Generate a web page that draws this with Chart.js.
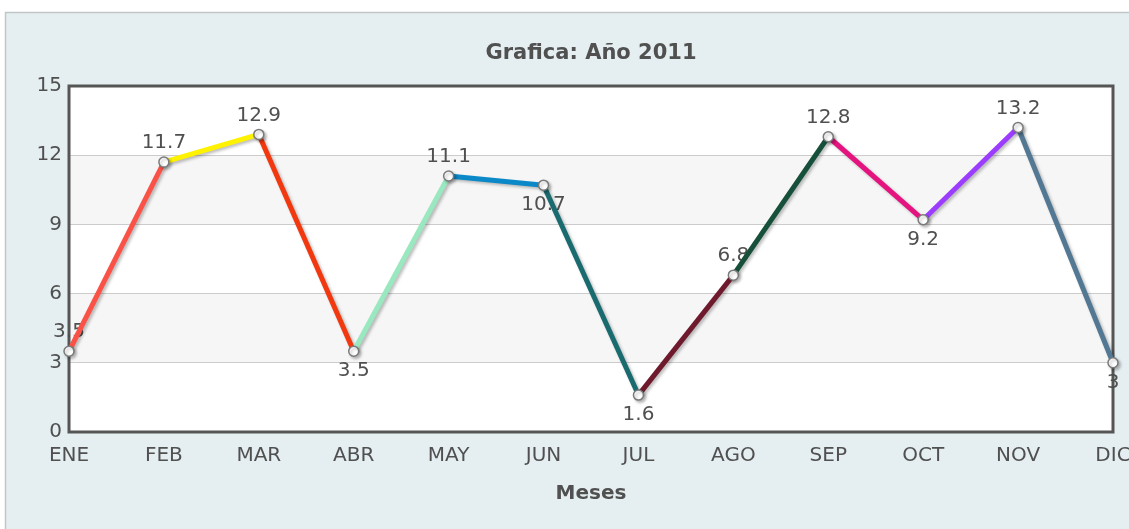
<!DOCTYPE html>
<html>
<head>
<meta charset="utf-8">
<style>
  html, body { margin: 0; padding: 0; background: #ffffff; }
  #wrap { width: 1129px; height: 529px; }
</style>
<script src="https://cdn.jsdelivr.net/npm/chart.js@4.4.0/dist/chart.umd.min.js"></script>
</head>
<body>
<div id="wrap"><canvas id="c" width="1129" height="529"></canvas></div>
<script>
const months = ['ENE','FEB','MAR','ABR','MAY','JUN','JUL','AGO','SEP','OCT','NOV','DIC'];
const values = [3.5, 11.7, 12.9, 3.5, 11.1, 10.7, 1.6, 6.8, 12.8, 9.2, 13.2, 3];
const segmentColors = ['#fa5246','#fff200','#f2380f','#99e8c0','#0a88c8','#1a6b70','#6e1a2c','#17503a','#e5137f','#9b3cff','#527894'];
const yTicks = [0, 3, 6, 9, 12, 15];
const chartTitle = 'Grafica: Año 2011';
const xTitle = 'Meses';

const FONT = '"DejaVu Sans", Verdana, sans-serif';
const TEXT = '#505050';

const bgPlugin = {
  id: 'bgPlugin',
  beforeDraw(chart) {
    const {ctx, chartArea: a, scales: {y}} = chart;
    ctx.save();
    ctx.fillStyle = '#ffffff';
    ctx.fillRect(0, 0, chart.width, chart.height);
    ctx.fillStyle = '#e5eef1';
    ctx.fillRect(5, 12, chart.width - 5, chart.height - 12);
    ctx.strokeStyle = '#c2c6c8';
    ctx.lineWidth = 1.5;
    ctx.beginPath();
    ctx.moveTo(5.5, chart.height);
    ctx.lineTo(5.5, 12.5);
    ctx.lineTo(chart.width, 12.5);
    ctx.stroke();
    ctx.fillStyle = '#ffffff';
    ctx.fillRect(a.left, a.top, a.right - a.left, a.bottom - a.top);
    for (let i = 0; i < yTicks.length - 1; i++) {
      if (i % 2 === 1) {
        const y0 = y.getPixelForValue(yTicks[i]);
        const y1 = y.getPixelForValue(yTicks[i + 1]);
        ctx.fillStyle = '#f6f6f6';
        ctx.fillRect(a.left, y1, a.right - a.left, y0 - y1);
      }
    }
    ctx.restore();
  },
  beforeDatasetsDraw(chart) {
    const {ctx, chartArea: a} = chart;
    ctx.save();
    ctx.strokeStyle = '#555555';
    ctx.lineWidth = 3;
    ctx.strokeRect(a.left, a.top, a.right - a.left, a.bottom - a.top);
    // data labels (drawn under the lines, as in the reference)
    const meta = chart.getDatasetMeta(0);
    ctx.font = '20px ' + FONT;
    ctx.fillStyle = TEXT;
    ctx.textAlign = 'center';
    ctx.textBaseline = 'middle';
    const data = chart.data.datasets[0].data;
    meta.data.forEach((pt, i) => {
      const below = i > 0 && data[i] < data[i - 1];
      ctx.fillText(String(data[i]), pt.x, below ? pt.y + 20 : pt.y - 19);
    });
    ctx.restore();
  },
  beforeDatasetDraw(chart) {
    const ctx = chart.ctx;
    ctx.save();
    ctx.shadowColor = 'rgba(0,0,0,0.25)';
    ctx.shadowBlur = 3;
    ctx.shadowOffsetX = 2;
    ctx.shadowOffsetY = 2;
  },
  afterDatasetDraw(chart) {
    chart.ctx.restore();
  }
};

new Chart(document.getElementById('c'), {
  type: 'line',
  data: {
    labels: months,
    datasets: [{
      data: values,
      borderWidth: 5,
      borderColor: segmentColors[0],
      segment: {
        borderColor: ctx => segmentColors[ctx.p0DataIndex]
      },
      tension: 0,
      clip: false,
      pointRadius: 5,
      pointHoverRadius: 5,
      pointBackgroundColor: '#ffffff',
      pointBorderColor: '#7a7a7a',
      pointBorderWidth: 1.5
    }]
  },
  options: {
    responsive: false,
    devicePixelRatio: 1,
    animation: false,
    events: [],
    layout: { padding: { left: 5, right: 16, top: 0, bottom: 0 } },
    plugins: {
      legend: { display: false },
      tooltip: { enabled: false },
      title: {
        display: true,
        text: chartTitle,
        fullSize: false,
        color: TEXT,
        font: { family: FONT, size: 21, weight: 'bold', lineHeight: 1.2 },
        padding: { top: 41.4, bottom: 19.4 }
      }
    },
    scales: {
      x: {
        type: 'category',
        offset: false,
        border: { display: false },
        grid: { display: false, drawTicks: false },
        ticks: {
          autoSkip: false, maxRotation: 0, minRotation: 0,
          padding: 12, color: TEXT,
          font: { family: FONT, size: 20 }
        },
        title: {
          display: true, text: xTitle, color: TEXT,
          font: { family: FONT, size: 20, weight: 'bold', lineHeight: 1.2 },
          padding: { top: 0, bottom: 23 }
        },
        afterFit(scale) {
          scale.height = 97;
          scale.paddingLeft = 0;
          scale.paddingRight = 0;
        }
      },
      y: {
        min: yTicks[0],
        max: yTicks[yTicks.length - 1],
        border: { display: false },
        grid: { color: '#cccccc', lineWidth: 1, drawTicks: false },
        ticks: {
          stepSize: 3, padding: 7, color: TEXT,
          font: { family: FONT, size: 20 }
        },
        afterFit(scale) {
          scale.width = 64;
          scale.paddingTop = 0;
          scale.paddingBottom = 0;
        }
      }
    }
  },
  plugins: [bgPlugin]
});
</script>
</body>
</html>
